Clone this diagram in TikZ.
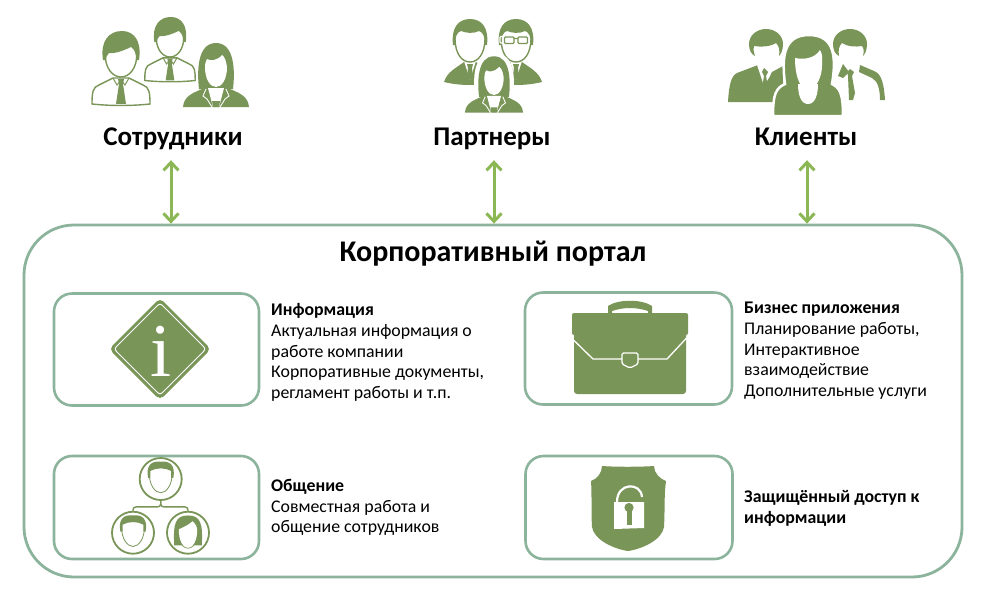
\documentclass[tikz,border=0pt]{standalone}
\usepackage{fontspec}
\setmainfont{Carlito}
\newfontfamily\serifglyph{Liberation Serif}
\usetikzlibrary{arrows.meta}

\definecolor{iconcol}{HTML}{7A9558}
\definecolor{framecol}{HTML}{8CB39B}
\definecolor{arrowcol}{HTML}{8BB855}

\tikzset{
	group/.style={anchor=base,font=\fontsize{27}{30}\selectfont\bfseries,inner sep=0pt,text height=22pt,text depth=15pt},
	framebox/.style={draw=framecol,line width=2.6pt,rounded corners=18pt,fill=white,minimum width=205pt,minimum height=112pt,inner sep=0pt},
	bodytext/.style={anchor=north west,align=left,inner sep=0pt,font=\fontsize{17.8}{20.7}\selectfont},
	duplex/.style={{Straight Barb[length=8pt,width=15pt]}-{Straight Barb[length=8pt,width=15pt]},draw=arrowcol,line width=3pt},
	facering/.style={circle,draw=iconcol,line width=1.8pt,minimum size=42pt,inner sep=0pt},
	shirtman/.pic={
		\draw[iconcol,line width=1.4pt,fill=white] (-29,27) .. controls (-29,15) and (-28,10) .. (-22,8) -- (-8,1) -- (8,1) -- (22,8) .. controls (28,10) and (29,15) .. (29,27) .. controls (10,29) and (-10,29) .. (-29,27) -- cycle;
		\fill[iconcol] (-3,2) -- (3,2) -- (2,7) -- (5,27) -- (-5,27) -- (-2,7) -- cycle;
		\draw[iconcol,line width=1pt] (-8,1) -- (-4,8) -- (0,3) -- (4,8) -- (8,1);
		\draw[iconcol,line width=1.4pt,fill=white] (-16,-24) .. controls (-16,-8) and (-8,0) .. (0,0) .. controls (8,0) and (16,-8) .. (16,-24);
		\fill[iconcol] (-18,-17) .. controls (-21,-36) and (-12,-46) .. (1,-46) .. controls (13,-46) and (21,-36) .. (18,-17) -- (15,-17) .. controls (15,-24) and (14,-27) .. (10,-30) .. controls (4,-27) and (-6,-23) .. (-12,-24) .. controls (-14,-22) and (-15,-20) .. (-15,-17) -- cycle;
	},
	suitman/.pic={
		\fill[iconcol] (-26,20) .. controls (-23,10) and (-14,6) .. (-6,0) -- (6,0) .. controls (14,6) and (23,10) .. (26,20) .. controls (10,24) and (-10,24) .. (-26,20) -- cycle;
		\fill[white] (-6,-1) -- (6,-1) -- (0,18) -- cycle;
		\fill[iconcol] (-3,2) -- (3,2) -- (2,6) -- (3,14) -- (0,18) -- (-3,14) -- (-2,6) -- cycle;
		\draw[iconcol,line width=1.4pt,fill=white] (-15,-24) .. controls (-15,-8) and (-8,0) .. (0,0) .. controls (8,0) and (15,-8) .. (15,-24);
		\fill[iconcol] (-17,-17) .. controls (-19,-34) and (-12,-43) .. (0,-43) .. controls (12,-43) and (19,-34) .. (17,-17) -- (15,-17) .. controls (15,-25) and (13,-30) .. (9,-31) .. controls (3,-28) and (-4,-29) .. (-9,-31) .. controls (-13,-30) and (-15,-25) .. (-15,-17) -- cycle;
	},
	suitwoman/.pic={
		\fill[iconcol] (-17,2) .. controls (-19,-15) and (-19,-44) .. (0,-44) .. controls (19,-44) and (19,-15) .. (17,2) -- cycle;
		\fill[iconcol] (-33,20) .. controls (-32,9) and (-24,6) .. (-9,0) -- (9,0) .. controls (24,6) and (32,9) .. (33,20) -- cycle;
		\fill[white] (-8,1) -- (8,1) -- (3,20) -- (-3,20) -- cycle;
		\fill[iconcol] (-4,14) -- (4,14) -- (3,20) -- (-3,20) -- cycle;
		\draw[white,line width=.9pt] (-10,2) -- (-13,9) -- (-9,12) -- (-4,20) (10,2) -- (13,9) -- (9,12) -- (4,20);
		\fill[white] (-11,-20) .. controls (-11,-8) and (-6,0) .. (0,0) .. controls (6,0) and (11,-8) .. (11,-20) .. controls (10,-26) and (9,-30) .. (6,-32) .. controls (1,-26) and (-6,-26) .. (-9,-28) .. controls (-10,-26) and (-11,-24) .. (-11,-20) -- cycle;
	},
	faceman/.pic={
		\draw[iconcol,line width=.8pt,fill=white] (-10,-5) .. controls (-10,5) and (-5,12) .. (0,12) .. controls (5,12) and (10,5) .. (10,-5);
		\fill[iconcol] (-11,-1) .. controls (-13,-12) and (-8,-16) .. (0,-15) .. controls (8,-16) and (13,-12) .. (11,-1) -- (9,-1) -- (9,-7) .. controls (4,-10) and (-4,-10) .. (-9,-7) -- (-9,-1) -- cycle;
	},
	facewoman/.pic={
		\fill[iconcol] (-12,11) .. controls (-13,-8) and (-11,-15) .. (0,-15) .. controls (11,-15) and (13,-8) .. (12,11) -- cycle;
		\fill[white] (-8,-3) .. controls (-3,-5) and (2,-8) .. (4,-10) .. controls (7,-7) and (8,-5) .. (8,-3) .. controls (8,8) and (4,13) .. (0,13) .. controls (-4,13) and (-8,8) .. (-8,-3) -- cycle;
		\draw[iconcol,line width=.7pt] (-8,6) .. controls (-6,11) and (-3,13.5) .. (0,13.5) .. controls (3,13.5) and (6,11) .. (8,6);
	},
}

\begin{document}
\begin{tikzpicture}[x=1pt,y=-1pt]
	\useasboundingbox (0,0) rectangle (987,595);

	% main frame and title
	\node[draw=framecol,line width=2.8pt,rounded corners=50pt,minimum width=938pt,minimum height=352pt,inner sep=0pt] (portal) at (493,401) {};
	\node[anchor=base,font=\fontsize{30}{34}\selectfont\bfseries,inner sep=0pt] (portaltitle) at (493,261) {Корпоративный портал};

	% top groups
	\node[group] (staff) at (173,145) {Сотрудники};
	\node[group] (partners) at (492,145) {Партнеры};
	\node[group] (clients) at (806,145) {Клиенты};
	\draw[duplex] (171,0 |- staff.south) -- (171,0 |- portal.north);
	\draw[duplex] (494,0 |- partners.south) -- (494,0 |- portal.north);
	\draw[duplex] (807,0 |- clients.south) -- (807,0 |- portal.north);

	% staff icon
	\pic at (121,77) {shirtman};
	\pic[scale=.87] at (170,57) {shirtman};
	\pic at (216,87) {suitwoman};

	% partner icon
	\pic at (470,62) {suitman};
	\pic at (516,62) {suitman};
	\draw[white,line width=1.2pt,rounded corners=1pt] (500,36.5) rectangle (509,43) (514,36.5) rectangle (523,43);
	\draw[iconcol,line width=1.2pt,rounded corners=1pt] (504.5,37) rectangle (514,43.5) (518,37) rectangle (527.5,43.5) (514,38.5) -- (518,38.5);
	\draw[white,line width=2pt,fill=white] (476,94) .. controls (474,78) and (474,54) .. (494,54) .. controls (514,54) and (514,78) .. (512,94) -- (521,118) -- (465,118) -- cycle;
	\pic[scale=.88] at (494,95) {suitwoman};

	% client icon
	\fill[iconcol] (728,102) .. controls (729,85) and (731,76) .. (737,73) -- (758,65) -- (766,82) -- (772,72) -- (783,66) -- (783,84) .. controls (775,90) and (773,94) .. (773,102) -- cycle;
	\fill[white] (756,62) -- (774,62) -- (770,76) -- (764,86) -- cycle;
	\fill[iconcol] (764,68) -- (768,72) -- (766,76) -- (768,88) -- (766,95) -- (762,88) -- (764,76) -- (762,72) -- cycle;
	\fill[iconcol] (766,29) .. controls (776,29) and (783,36) .. (783,44) .. controls (783,50) and (781,54) .. (779,56) .. controls (780,50) and (779,46) .. (776,43) .. controls (770,47) and (760,47) .. (754,46) .. controls (753,50) and (754,53) .. (755,56) .. controls (751,54) and (749,50) .. (749,44) .. controls (749,36) and (756,29) .. (766,29) -- cycle;
	\fill[iconcol] (850,29) .. controls (860,29) and (867,36) .. (867,44) .. controls (867,50) and (865,54) .. (863,56) .. controls (864,52) and (864,48) .. (862,46) .. controls (856,47) and (848,47) .. (842,43) .. controls (839,46) and (838,50) .. (839,56) .. controls (835,54) and (833,50) .. (833,44) .. controls (833,36) and (840,29) .. (850,29) -- cycle;
	\fill[iconcol] (838,76) -- (843,64) -- (849,72) -- (843,78) -- cycle;
	\fill[iconcol] (850,69) -- (854,72) -- (852,76) -- (855,93) -- (853,100) -- (849,100) -- (848,76) -- (847,72) -- cycle;
	\fill[iconcol] (860,65) -- (874,71) .. controls (882,74) and (884,85) .. (885,100) -- (880,100) .. controls (880,90) and (878,81) .. (872,78) -- (859,72) -- cycle;
	\draw[white,line width=2.5pt,fill=iconcol] (773,116) .. controls (773,94) and (776,88) .. (785,84) .. controls (782,60) and (782,35) .. (809,35) .. controls (836,35) and (836,60) .. (832,84) .. controls (840,88) and (843,94) .. (843,116) -- cycle;
	\fill[white] (795,58) .. controls (805,60) and (815,58) .. (820,50) .. controls (823,55) and (822,58) .. (822,66) .. controls (822,78) and (815,90) .. (808,90) .. controls (801,90) and (795,78) .. (795,58) -- cycle;
	\fill[white] (798,84) -- (818,84) .. controls (818,95) and (815,104) .. (808,104) .. controls (801,104) and (798,95) .. (798,84) -- cycle;

	% left cards
	\node[framebox] (infocard) at (156.5,349.5) {};
	\node[framebox,minimum height=103pt] (chatcard) at (156.5,507.5) {};
	\fill[iconcol,rounded corners=5pt] (160,298) -- (211,349) -- (160,400) -- (109,349) -- cycle;
	\draw[white,line width=1pt,rounded corners=3pt] (160,303) -- (206,349) -- (160,395) -- (114,349) -- cycle;
	\node[white,inner sep=0pt,font=\fontsize{76}{76}\selectfont\serifglyph] (infoglyph) at (161,351) {i};

	\node[facering] (headtop) at (160.7,479) {};
	\node[facering] (headleft) at (133,532.7) {};
	\node[facering] (headright) at (188,532.7) {};
	\draw[iconcol,line width=1.4pt,rounded corners=3pt] (headtop.south) -- ++(0,6) -| (headleft.north);
	\draw[iconcol,line width=1.4pt,rounded corners=3pt] (headtop.south) -- ++(0,6) -| (headright.north);
	\pic[scale=1.15] at (160.7,479) {faceman};
	\pic[scale=1.15] at (133,532.7) {faceman};
	\pic[scale=1.15] at (188,532.7) {facewoman};

	% right cards
	\node[framebox,minimum width=207pt] (bizcard) at (628.5,348.5) {};
	\node[framebox,minimum width=207pt,minimum height=103pt] (safecard) at (629,507.5) {};

	\fill[iconcol] (608,313) -- (608,306) .. controls (618,299) and (642,299) .. (652,306) -- (652,313) -- (648,313) -- (648,311) .. controls (636,307) and (624,307) .. (612,311) -- (612,313) -- cycle;
	\fill[iconcol,rounded corners=2pt] (572,313) rectangle (688,335);
	\fill[iconcol,rounded corners=3pt] (574,330) rectangle (686,394);
	\draw[white,line width=1.3pt] (572.5,339) -- (593,359) -- (622,359) (638,359) -- (667,359) -- (687.5,337);
	\draw[white,line width=1.3pt,rounded corners=1.5pt] (622,353) -- (638,353) -- (638,364) -- (630,368) -- (622,364) -- cycle;

	\fill[iconcol] (602,466) .. controls (615,467) and (640,467) .. (654,466) .. controls (654,473) and (660,479) .. (666,481) .. controls (664,495) and (665,510) .. (664,527) .. controls (662,540) and (642,549) .. (628,551) .. controls (614,549) and (594,540) .. (592,527) .. controls (591,510) and (592,495) .. (591,481) .. controls (597,479) and (602,473) .. (602,466) -- cycle;
	\fill[white] (614,502) -- (644,502) -- (644,528) -- (614,529) -- cycle;
	\draw[white,line width=2.2pt] (617,502) .. controls (617,482) and (641,482) .. (642,497);
	\fill[iconcol] (629,507.5) circle (4.6pt);
	\fill[iconcol] (626.5,510) rectangle (631.5,525);

	% card texts
	\node[bodytext] (infotext) at (271,303.5) {\textbf{Информация}\\Актуальная информация о\\работе компании\\Корпоративные документы,\\регламент работы и т.п.};
	\node[bodytext] (chattext) at (271,479) {\textbf{Общение}\\Совместная работа и\\общение сотрудников};
	\node[bodytext] (biztext) at (744,302) {\textbf{Бизнес приложения}\\Планирование работы,\\Интерактивное\\взаимодействие\\Дополнительные услуги};
	\node[bodytext] (safetext) at (744,490) {\textbf{Защищённый доступ к}\\\textbf{информации}};
\end{tikzpicture}
\end{document}
